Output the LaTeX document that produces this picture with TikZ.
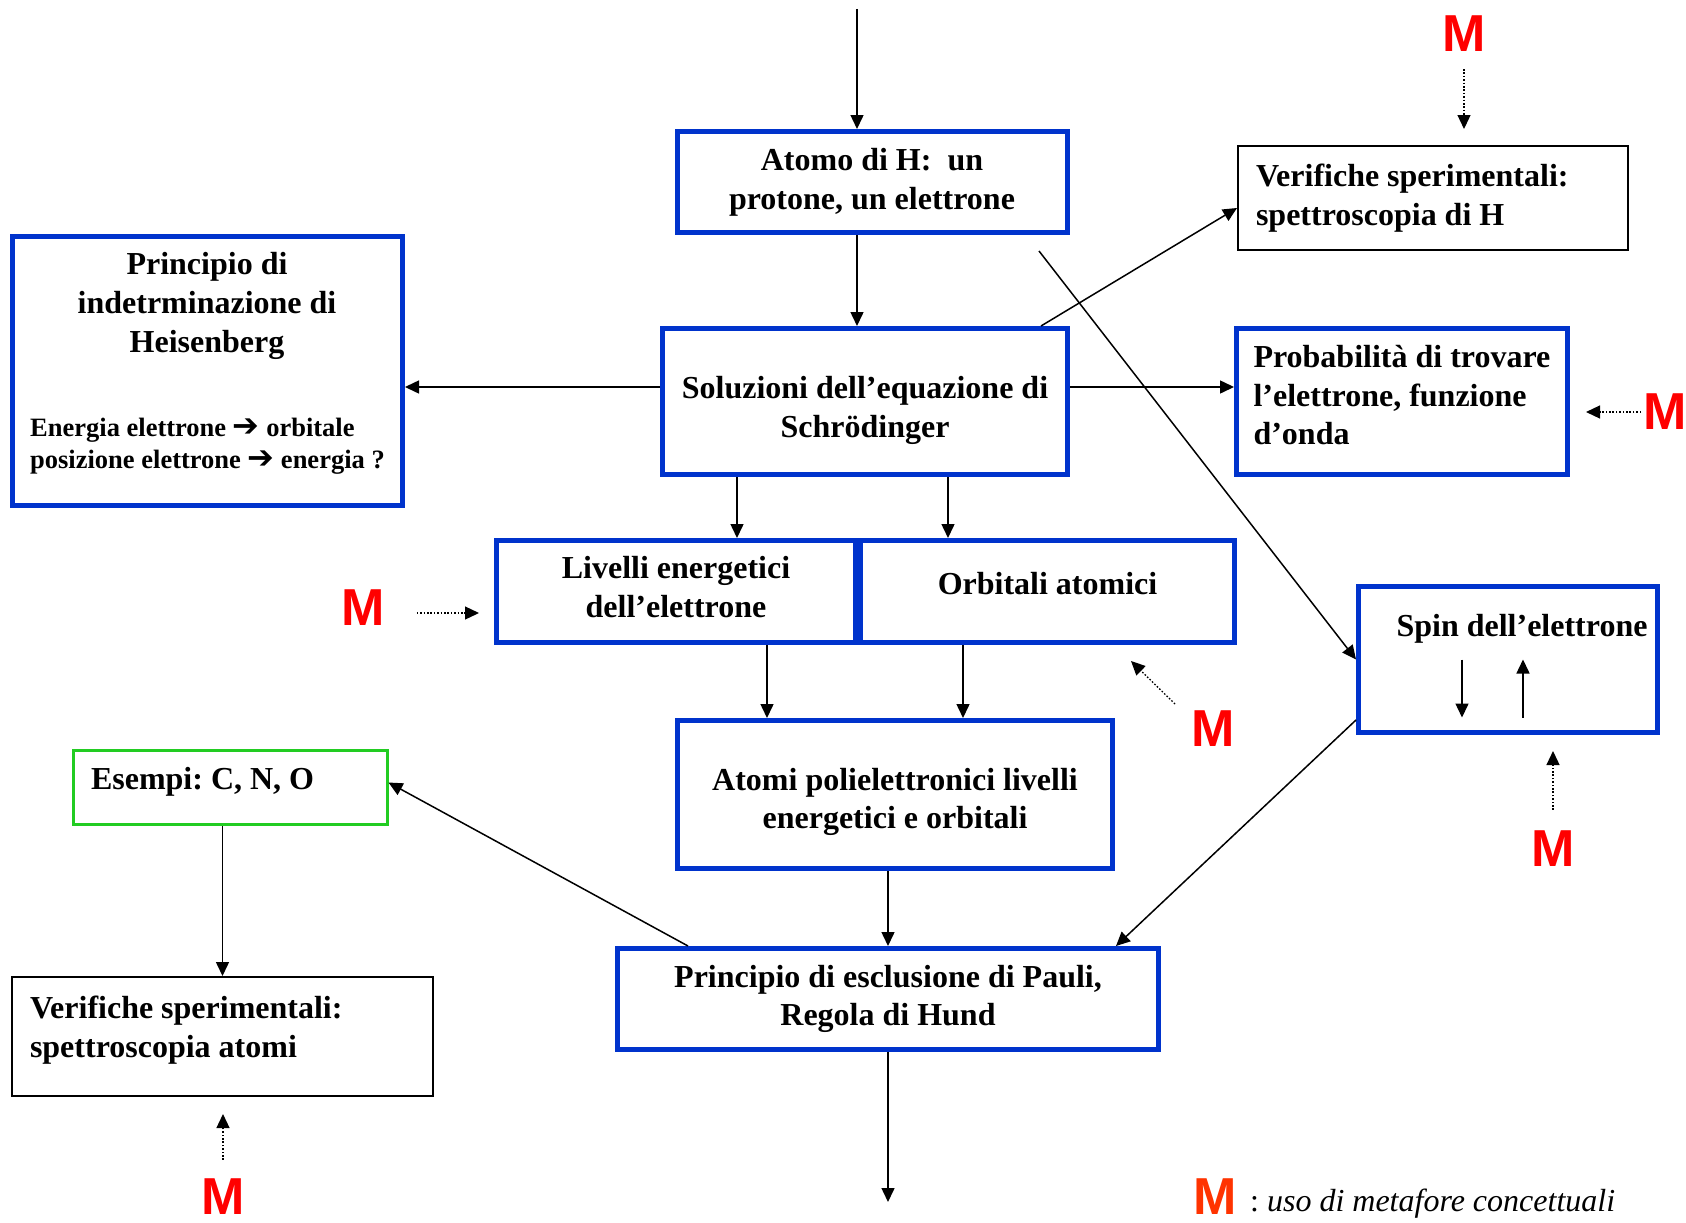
\documentclass[tikz,border=0pt]{standalone}
\usepackage{fontspec}
\setmainfont{Liberation Serif}
\newfontfamily\msans{Liberation Sans}
\newfontfamily\djv{DejaVu Sans}
\usetikzlibrary{arrows.meta,calc}
\definecolor{boxblue}{RGB}{0,51,204}
\definecolor{boxgreen}{RGB}{34,204,34}
\definecolor{mred}{RGB}{255,0,0}
\definecolor{legred}{RGB}{255,51,0}
\frenchspacing
% struts to move a box text up or down
\newcommand{\lowtext}[1]{\rule{0pt}{#1}}
\newcommand{\hightext}[1]{\rule[-#1]{0pt}{#1}}

\begin{document}
\begin{tikzpicture}[x=1pt, y=-1pt]
  \tikzstyle{every node} = [font=\bfseries\fontsize{32}{38.7}\selectfont]
  \tikzstyle{bluebox} = [draw=boxblue, line width=5pt, inner sep=0pt, align=center]
  \tikzstyle{blackbox} = [draw=black, line width=2pt, inner ysep=0pt, align=flush left]
  \tikzstyle{greenbox} = [draw=boxgreen, line width=3pt, inner ysep=0pt, align=flush left]
  \tikzstyle{conn} = [line width=1.5pt, -{Triangle[length=14pt, width=13pt]}]
  \tikzstyle{metaconn} = [line width=1.3pt, dash pattern=on 1.6pt off 1.8pt, -{Triangle[length=14pt, width=13pt]}]
  \tikzstyle{mlabel} = [inner sep=0pt, text=mred, font=\msans\bfseries\fontsize{52}{52}\selectfont]

  \useasboundingbox (0,0) rectangle (1686,1223);

  % columns of the straight connectors
  \coordinate (ctop) at (857,9);
  \coordinate (clv) at (737,0);
  \coordinate (corb) at (948,0);
  \coordinate (clv2) at (767,0);
  \coordinate (corb2) at (963,0);
  \coordinate (cver) at (1041,0);
  \coordinate (rsol) at (0,387);
  \coordinate (aspin) at (1039,251);
  \coordinate (cbot) at (888,1202);

  % main boxes
  \node[bluebox, minimum width=390pt, minimum height=101pt] (atomo) at (872,182)
    {Atomo di H:\ \ un\\protone, un elettrone};
  \node[bluebox, minimum width=405pt, minimum height=146pt] (sol) at (865,401.5)
    {\lowtext{40pt}Soluzioni dell’equazione di\\Schrödinger};
  \node[bluebox, minimum width=359pt, minimum height=102pt] (lv) at (676,591.5)
    {Livelli energetici\\dell’elettrone\hightext{9pt}};
  \node[bluebox, minimum width=374pt, minimum height=102pt] (orb) at (1047.5,591.5)
    {Orbitali atomici\hightext{17pt}};
  \node[bluebox, minimum width=435pt, minimum height=148pt] (atomi) at (895,794.5)
    {\lowtext{37pt}Atomi polielettronici livelli\\energetici e orbitali};
  \node[bluebox, minimum width=541pt, minimum height=101pt] (pauli) at (888,999)
    {Principio di esclusione di Pauli,\\Regola di Hund};

  % left side
  \node[bluebox, minimum width=390pt, minimum height=269pt] (heis) at (207.5,371) {};
  \node[align=center] (heistit) at (207,306) {Principio di\\indetrminazione di\\Heisenberg};
  \node[anchor=west, inner sep=0pt, align=left, font=\bfseries\fontsize{26.5}{32}\selectfont] (heistxt) at (30,446)
    {Energia elettrone {\djv\bfseries\fontsize{32}{32}\selectfont ➔} orbitale\\posizione elettrone {\djv\bfseries\fontsize{32}{32}\selectfont ➔} energia ?};
  \node[greenbox, inner xsep=18pt, text width=278pt, minimum height=74pt] (esempi) at (230,787.5)
    {Esempi: C, N, O\hightext{18pt}};
  \node[blackbox, inner xsep=18pt, text width=385pt, minimum height=119pt] (verA) at (222.5,1036.5)
    {Verifiche sperimentali:\\spettroscopia atomi\hightext{20pt}};

  % right side
  \node[blackbox, inner xsep=18pt, text width=354pt, minimum height=104pt] (verH) at (1433,198)
    {Verifiche sperimentali:\\spettroscopia di H};
  \node[bluebox, inner xsep=17pt, text width=297pt, minimum height=146pt, align=flush left] (prob) at (1402,401.5)
    {Probabilità di trovare\\l’elettrone, funzione\\d’onda\hightext{13pt}};
  \node[bluebox, minimum width=299pt, minimum height=146pt] (spin) at (1508,659.5) {};
  \node (spintxt) at (1522,629) {Spin dell’elettrone};
  \draw[conn] ([xshift=-46pt]spin.center) -- ([xshift=-46pt, yshift=-58pt]spin.center);
  \draw[conn] ([xshift=15pt, yshift=-58pt]spin.center) -- ([xshift=15pt]spin.center);

  % connection lines
  \draw[conn] (ctop) -- (atomo.north -| ctop);
  \draw[conn] (atomo.south -| ctop) -- (sol.north -| ctop);
  \draw[conn] (sol.west |- rsol) -- (heis.east |- rsol);
  \draw[conn] (sol.east |- rsol) -- (prob.west |- rsol);
  \draw[conn] (sol.north -| cver) -- ([yshift=-10pt]verH.west);
  \draw[conn] (aspin) -- (spin.west);
  \draw[conn] (sol.south -| clv) -- (lv.north -| clv);
  \draw[conn] (sol.south -| corb) -- (orb.north -| corb);
  \draw[conn] (lv.south -| clv2) -- (atomi.north -| clv2);
  \draw[conn] (orb.south -| corb2) -- (atomi.north -| corb2);
  \draw[conn] (atomi.south -| pauli.north) -- (pauli.north);
  \draw[conn] ([yshift=15pt]spin.south west) -- ([xshift=-45pt]pauli.north east);
  \draw[conn] ([xshift=73pt]pauli.north west) -- ([yshift=5pt]esempi.east);
  \draw[conn] (esempi.south -| verA.north) -- (verA.north);
  \draw[conn] (pauli.south) -- (cbot);

  % metaphor marks
  \node[mlabel] (m1) at (1464,34) {M};
  \node[mlabel] (m2) at (1665,412) {M};
  \node[mlabel] (m3) at (363,608) {M};
  \node[mlabel] (m4) at (1213,729) {M};
  \node[mlabel] (m5) at (1553,849) {M};
  \node[mlabel] (m6) at (223,1197) {M};
  \coordinate (m4a) at (1175,704);
  \coordinate (m4b) at (1131,661);
  \draw[metaconn, shorten <=17pt, shorten >=16pt] (m1.south) -- (m1.south |- verH.north);
  \draw[metaconn, shorten <=2pt, shorten >=16pt] (m2.west) -- (m2.west -| prob.east);
  \draw[metaconn, shorten <=32pt, shorten >=15pt] ([yshift=-5pt]m3.east) -- ([yshift=-5pt]m3.east -| lv.west);
  \draw[metaconn] (m4a) -- (m4b);
  \draw[metaconn, shorten <=21pt, shorten >=16pt] (m5.north) -- (m5.north |- spin.south);
  \draw[metaconn, shorten <=19pt, shorten >=17pt] (m6.north) -- (m6.north |- verA.south);

  % legend
  \node[mlabel, text=legred] (mleg) at (1215,1197) {M};
  \node[anchor=west, inner sep=0pt, font=\fontsize{32}{38}\selectfont] (legtxt) at (1250,1204)
    {: \textit{uso di metafore concettuali}};

\end{tikzpicture}
\end{document}
